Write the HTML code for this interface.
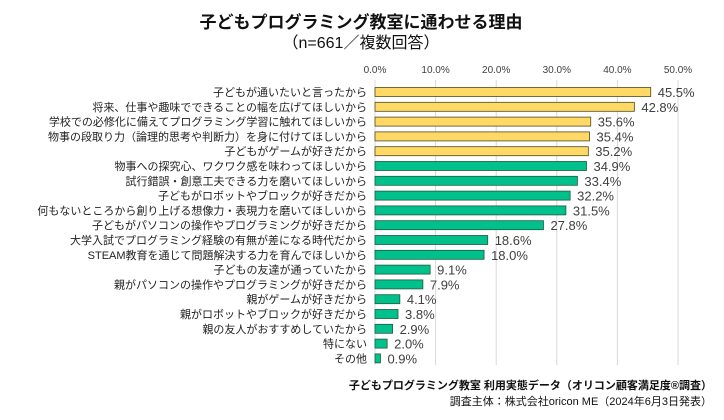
<!DOCTYPE html>
<html><head><meta charset="utf-8">
<style>
body{margin:0;background:#fff;}
svg text{font-family:"Liberation Sans","Noto Sans CJK JP",sans-serif;}
</style></head>
<body>
<svg id="chart" width="724" height="415" viewBox="0 0 724 415" xmlns="http://www.w3.org/2000/svg">
<text x="361" y="28" text-anchor="middle" font-size="17" font-weight="bold" fill="#111">子どもプログラミング教室に通わせる理由</text>
<text x="361" y="48" text-anchor="middle" font-size="16" fill="#111">（n=661／複数回答）</text>
<g id="grid"></g>
<g id="bars"></g>
<text x="712" y="389" text-anchor="end" font-size="11" font-weight="bold" fill="#111">子どもプログラミング教室  利用実態データ（オリコン顧客満足度®調査）</text>
<text x="712" y="405" text-anchor="end" font-size="11" fill="#111">調査主体：株式会社oricon  ME（2024年6月3日発表）</text>
</svg>
<script>
const categories=["子どもが通いたいと言ったから","将来、仕事や趣味でできることの幅を広げてほしいから","学校での必修化に備えてプログラミング学習に触れてほしいから","物事の段取り力（論理的思考や判断力）を身に付けてほしいから","子どもがゲームが好きだから","物事への探究心、ワクワク感を味わってほしいから","試行錯誤・創意工夫できる力を磨いてほしいから","子どもがロボットやブロックが好きだから","何もないところから創り上げる想像力・表現力を磨いてほしいから","子どもがパソコンの操作やプログラミングが好きだから","大学入試でプログラミング経験の有無が差になる時代だから","STEAM教育を通じて問題解決する力を育んでほしいから","子どもの友達が通っていたから","親がパソコンの操作やプログラミングが好きだから","親がゲームが好きだから","親がロボットやブロックが好きだから","親の友人がおすすめしていたから","特にない","その他"];
const values=[45.5,42.8,35.6,35.4,35.2,34.9,33.4,32.2,31.5,27.8,18.6,18.0,9.1,7.9,4.1,3.8,2.9,2.0,0.9];
const ticks=[0,10,20,30,40,50];
const NS="http://www.w3.org/2000/svg";
const x0=375, pxPer=6.06, y0=92, pitch=14.8, bh=9;
const xs=v=>x0+v*pxPer, ys=i=>y0+i*pitch;
const grid=document.getElementById('grid'), bars=document.getElementById('bars');
function mk(tag,attrs,parent){const e=document.createElementNS(NS,tag);for(const k in attrs)e.setAttribute(k,attrs[k]);parent.appendChild(e);return e;}
ticks.forEach(t=>{
  const l=mk('line',{x1:xs(t),x2:xs(t),y1:80,y2:365,stroke:'#d9d9d9','stroke-width':1},grid);
  
  
  const tx=mk('text',{x:xs(t),y:73,'text-anchor':'middle','font-size':10,fill:'#404040'},grid);
  tx.textContent=t.toFixed(1)+'%';
  
  
});
values.forEach((v,i)=>{
  const y=ys(i), yellow=i<5;
  const r=mk('rect',{x:x0,y:y-bh/2,width:v*pxPer,height:bh,fill:yellow?'#FFD966':'#00C08B',stroke:yellow?'#4d4a1e':'#1f5a3a','stroke-width':0.8},bars);
  
  
  const lb=mk('text',{x:367,y:y+4,'text-anchor':'end','font-size':11,fill:'#222'},bars);
  lb.textContent=categories[i];
  
  
  const vl=mk('text',{x:xs(v)+7,y:y+5,'font-size':13,fill:'#404040'},bars);
  vl.textContent=v.toFixed(1)+'%';
  
  
});
</script>
</body></html>
